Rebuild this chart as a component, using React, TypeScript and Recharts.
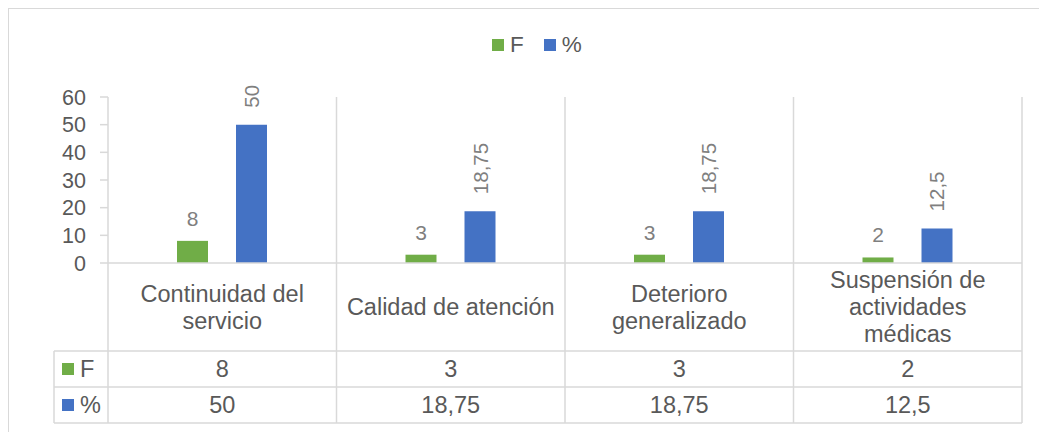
import React from 'react';
import { BarChart, Bar, XAxis, YAxis, LabelList } from 'recharts';

const categoryLines = [
    ['Continuidad del', 'servicio'],
    ['Calidad de atención'],
    ['Deterioro', 'generalizado'],
    ['Suspensión de', 'actividades', 'médicas'],
];
const categories = categoryLines.map(l => l.join(' '));
const fValues = [8, 3, 3, 2];
const pctValues = [50, 18.75, 18.75, 12.5];
const yTicks = [0, 10, 20, 30, 40, 50, 60];

const data = categories.map((name, i) => ({ name, F: fValues[i], pct: pctValues[i] }));

const GREEN = '#70AD47';
const BLUE = '#4472C4';
const GRID = '#d9d9d9';
const TEXT = '#595959';
const LABEL = '#7f7f7f';
const FONT = '"Liberation Sans", Arial, sans-serif';

// layout of the plot + data table underneath
const W = 1039;
const H = 432;
const PLOT_LEFT = 108;
const PLOT_RIGHT = 1022;
const PLOT_TOP = 97;
const AXIS_Y = 263;
const ROW_CAT = 351;
const ROW_F = 387;
const ROW_PCT = 423;
const HEAD_LEFT = 54;
const CAT_W = (PLOT_RIGHT - PLOT_LEFT) / categories.length;

const fmt = (v: number) => String(v).replace('.', ',');

const CategoryTick = (props: any) => {
    const { x, payload } = props;
    const i = props.index ?? payload.index ?? 0;
    const lines = categoryLines[i];
    const mid = (AXIS_Y + ROW_CAT) / 2;
    const lh = 27;
    const startY = mid - ((lines.length - 1) * lh) / 2;
    const right = x + CAT_W / 2;
    return (
        <g>
            {lines.map((t, k) => (
                <text key={k} x={x} y={startY + k * lh} textAnchor="middle" dominantBaseline="central" fill={TEXT} fontSize={23.5} fontFamily={FONT}>{t}</text>
            ))}
            <text x={x} y={(ROW_CAT + ROW_F) / 2} textAnchor="middle" dominantBaseline="central" fill={TEXT} fontSize={23.5} fontFamily={FONT}>{fmt(fValues[i])}</text>
            <text x={x} y={(ROW_F + ROW_PCT) / 2} textAnchor="middle" dominantBaseline="central" fill={TEXT} fontSize={23.5} fontFamily={FONT}>{fmt(pctValues[i])}</text>
            <line x1={right} x2={right} y1={PLOT_TOP} y2={ROW_PCT} stroke={GRID} strokeWidth={1.5} />
            {i === 0 && (
                <g>
                    <line x1={PLOT_LEFT} x2={PLOT_LEFT} y1={AXIS_Y} y2={ROW_PCT} stroke={GRID} strokeWidth={1.5} />
                    <line x1={HEAD_LEFT} x2={HEAD_LEFT} y1={ROW_CAT} y2={ROW_PCT} stroke={GRID} strokeWidth={1.5} />
                    {[ROW_CAT, ROW_F, ROW_PCT].map(y => (
                        <line key={y} x1={HEAD_LEFT} x2={PLOT_RIGHT} y1={y} y2={y} stroke={GRID} strokeWidth={1.5} />
                    ))}
                    <rect x={62} y={(ROW_CAT + ROW_F) / 2 - 6} width={12} height={12} fill={GREEN} />
                    <text x={80} y={(ROW_CAT + ROW_F) / 2} dominantBaseline="central" fill={TEXT} fontSize={23.5} fontFamily={FONT}>F</text>
                    <rect x={62} y={(ROW_F + ROW_PCT) / 2 - 6} width={12} height={12} fill={BLUE} />
                    <text x={80} y={(ROW_F + ROW_PCT) / 2} dominantBaseline="central" fill={TEXT} fontSize={23.5} fontFamily={FONT}>%</text>
                </g>
            )}
        </g>
    );
};

const FLabel = (props: any) => {
    const { x, y, width, value } = props;
    return (
        <text x={x + width / 2} y={y - 15} textAnchor="middle" fill={LABEL} fontSize={21} fontFamily={FONT}>{fmt(value)}</text>
    );
};

const PctLabel = (props: any) => {
    const { x, y, width, value } = props;
    const cx = x + width / 2;
    const ty = y - 17;
    return (
        <text x={cx} y={ty} transform={`rotate(-90, ${cx}, ${ty})`} textAnchor="start" dominantBaseline="central" fill={LABEL} fontSize={20.5} fontFamily={FONT}>{fmt(value)}</text>
    );
};

const LegendBox = ({ color, label }: { color: string, label: string }) => (
    <div style={{ display: 'flex', alignItems: 'center', gap: 6 }}>
        <div style={{ width: 12, height: 12, background: color }} />
        <span style={{ fontSize: 22.5, color: TEXT, fontFamily: FONT, lineHeight: 1 }}>{label}</span>
    </div>
);

export default function App() {
    return (
        <div style={{ position: 'fixed', left: 0, top: 0, width: W, height: H, background: '#fff', overflow: 'hidden' }}>
            <div style={{ position: 'absolute', left: 8, top: 8, width: 1040, height: 440, border: `1px solid ${GRID}` }} />
            <div style={{ position: 'absolute', left: 492, top: 34, display: 'flex', gap: 20 }}>
                <LegendBox color={GREEN} label="F" />
                <LegendBox color={BLUE} label="%" />
            </div>
            <div style={{ position: 'absolute', left: 0, top: 0 }}>
                <BarChart width={W} height={H} data={data} margin={{ top: PLOT_TOP, right: W - PLOT_RIGHT, bottom: H - ROW_PCT, left: 48 }} barGap={28}>
                    <XAxis dataKey="name" height={ROW_PCT - AXIS_Y} interval={0} tickLine={false} axisLine={{ stroke: GRID, strokeWidth: 1.5 }} tick={CategoryTick} />
                    <YAxis width={60} domain={[0, 60]} ticks={yTicks} interval={0} tickSize={8} tickMargin={14}
                        axisLine={{ stroke: GRID, strokeWidth: 1.5 }} tickLine={{ stroke: GRID, strokeWidth: 1.5 }}
                        tick={{ fill: TEXT, fontSize: 21.5, fontFamily: FONT }} />
                    <Bar dataKey="F" fill={GREEN} barSize={31} isAnimationActive={false}>
                        <LabelList dataKey="F" content={FLabel} />
                    </Bar>
                    <Bar dataKey="pct" fill={BLUE} barSize={31} isAnimationActive={false}>
                        <LabelList dataKey="pct" content={PctLabel} />
                    </Bar>
                </BarChart>
            </div>
        </div>
    );
}
